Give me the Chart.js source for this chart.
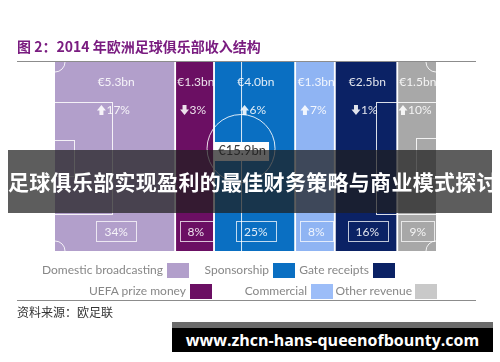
<!DOCTYPE html>
<html>
<head>
<meta charset="utf-8">
<script src="https://cdn.jsdelivr.net/npm/chart.js@4.4.0/dist/chart.umd.min.js"></script>
<style>
  body { margin: 0; background: #fff; }
  #wrap { position: relative; width: 500px; height: 362px; overflow: hidden; font-family: Lato, "Noto Sans", sans-serif; }
  #revenue_Chart { position: absolute; left: 0; top: 0; }
  .title { position: absolute; left: 17px; top: 36px; font: bold 14px "Noto Sans CJK SC", sans-serif; color: #7a1c80; line-height: 20px; white-space: nowrap; }
  .rule { position: absolute; left: 17px; width: 459px; height: 1px; background: #8c8c8c; }
  .lg-text { position: absolute; font-size: 12px; color: #878787; line-height: 16px; white-space: nowrap; text-align: right; }
  .lg-box { position: absolute; width: 22px; height: 15px; }
  .source { position: absolute; left: 17px; top: 304px; font: 12px "Noto Sans CJK SC", sans-serif; color: #333; line-height: 16px; }
  .banner { position: absolute; left: 8px; top: 150px; width: 484px; height: 63px; background: rgba(30,30,30,0.72);
            color: #fff; font: bold 21px "Noto Sans CJK SC", sans-serif; line-height: 63px; text-align: center; white-space: nowrap; letter-spacing: 0.3px; }
  .mark { position: absolute; left: 172px; top: 322px; width: 321px; height: 30px; background: #000; }
  .mark .strip { height: 6px; background: #6b6b6b; }
  .mark .txt { color: #fff; font: bold 16px "Open Sans", sans-serif; text-align: center; line-height: 24px; white-space: nowrap; }
</style>
</head>
<body>
<div id="wrap">
  <canvas id="revenue_Chart" width="500" height="362"></canvas>
  <div class="title">图 2：2014 年欧洲足球俱乐部收入结构</div>
  <div class="rule" style="top:61px"></div>
  <div id="legend"></div>
  <div class="rule" style="top:300px"></div>
  <div class="source">资料来源：欧足联</div>
  <div class="banner">足球俱乐部实现盈利的最佳财务策略与商业模式探讨</div>
  <div class="mark"><div class="strip"></div><div class="txt">www.zhcn-hans-queenofbounty.com</div></div>
</div>
<script>
const categories = ['Domestic broadcasting', 'UEFA prize money', 'Sponsorship', 'Commercial', 'Gate receipts', 'Other revenue'];
const revenue = [5.3, 1.3, 4.0, 1.3, 2.5, 1.5];      // € bn
const change = [17, -3, 6, 7, -1, 10];               // % change
const share = [34, 8, 25, 8, 16, 9];                 // % of total
const colSpan = [31.6, 10.2, 21.3, 10.4, 16.4, 10.1]; // column width as drawn
const colors = ['#b29fcb', '#6b0f63', '#0a6fc2', '#8fb4f3', '#0b2265', '#a8a8a8'];
const legendColors = ['#b29fcb', '#6b0f63', '#0a6fc2', '#9cbdf8', '#0b2265', '#c9c9c9'];

const ctx = document.getElementById('revenue_Chart');

// legend (text sits left of its swatch)
const legendPos = [
  [163, 167, 263], [269, 273, 263], [369, 373, 263],
  [186, 190, 284], [307, 311, 284], [412, 415, 284]
];
const legendOrder = [0, 2, 4, 1, 3, 5];
const lg = document.getElementById('legend');
legendOrder.forEach((ci, k) => {
  const p = legendPos[k];
  const t = document.createElement('div');
  t.className = 'lg-text';
  t.style.right = (500 - p[0]) + 'px';
  t.style.top = (p[2] - 1) + 'px';
  t.textContent = categories[ci];
  lg.appendChild(t);
  const b = document.createElement('div');
  b.className = 'lg-box';
  b.style.left = p[1] + 'px';
  b.style.top = p[2] + 'px';
  b.style.background = legendColors[ci];
  lg.appendChild(b);
});

let start = 0;
const datasets = categories.map((c, i) => {
  const ds = {
    label: c,
    data: [[start, start + colSpan[i]]],
    backgroundColor: colors[i],
    borderColor: '#ffffff',
    borderWidth: { left: i === 0 ? 0 : 1, right: i === 5 ? 0 : 1.5, top: 0, bottom: 0 },
    borderSkipped: false,
    grouped: false,
    barPercentage: 1,
    categoryPercentage: 1
  };
  start += colSpan[i];
  return ds;
});

function arrow(c, x, y, up) {
  // small block arrow, centred on x,y
  c.beginPath();
  const s = up ? -1 : 1;
  c.moveTo(x - 4.5, y - s * 0.5);
  c.lineTo(x, y + s * 5);
  c.lineTo(x + 4.5, y - s * 0.5);
  c.lineTo(x + 2, y - s * 0.5);
  c.lineTo(x + 2, y - s * 5);
  c.lineTo(x - 2, y - s * 5);
  c.lineTo(x - 2, y - s * 0.5);
  c.closePath();
  c.fill();
}

const pitch = {
  id: 'pitch',
  afterDatasetsDraw(chart) {
    const c = chart.ctx;
    const a = chart.chartArea;
    const xs = chart.scales.x;
    const midY = (a.top + a.bottom) / 2;
    c.save();
    c.strokeStyle = 'rgba(255,255,255,0.85)';
    c.lineWidth = 1;
    // half-way line and centre circle
    const cx = xs.getPixelForValue(colSpan[0] + colSpan[1] + colSpan[2] * 0.33);
    c.beginPath(); c.moveTo(cx + 0.5, a.top); c.lineTo(cx + 0.5, a.bottom); c.stroke();
    c.beginPath(); c.arc(cx, midY - 8, 34, 0, Math.PI * 2); c.stroke();
    // penalty and goal boxes
    c.strokeRect(a.left - 1, a.top + 40.5, 58.5, 112);
    c.strokeRect(a.left - 1, a.top + 78.5, 20.5, 36);
    c.strokeRect(a.right - 59.5, a.top + 40.5, 60, 112);
    c.strokeRect(a.right - 19.5, a.top + 76.5, 20, 40);
    // corner arcs
    [[a.left, a.top, 0, 0.5], [a.left, a.bottom, 1.5, 2], [a.right, a.top, 0.5, 1], [a.right, a.bottom, 1, 1.5]]
      .forEach(k => { c.beginPath(); c.arc(k[0], k[1], 10, k[2] * Math.PI, k[3] * Math.PI); c.stroke(); });

    // labels on each column
    c.textAlign = 'center';
    c.textBaseline = 'middle';
    c.font = '12px Lato, sans-serif';
    chart.data.datasets.forEach((ds, i) => {
      const bar = chart.getDatasetMeta(i).data[0];
      const mx = (bar.x + bar.base) / 2 + 1;
      c.fillStyle = 'rgba(255,255,255,0.88)';
      c.fillText('€' + revenue[i].toFixed(1) + 'bn', mx, a.top + 20);
      const ct = Math.abs(change[i]) + '%';
      const tw = c.measureText(ct).width;
      arrow(c, mx - tw / 2 - 3, a.top + 48, change[i] > 0);
      c.textAlign = 'left';
      c.fillText(ct, mx - tw / 2 + 2, a.top + 48);
      c.textAlign = 'center';
      const pt = share[i] + '%';
      const pw = c.measureText(pt).width + 16;
      c.strokeStyle = 'rgba(255,255,255,0.75)';
      c.strokeRect(Math.round(mx - pw / 2) + 0.5, a.bottom - 29.5, Math.round(pw), 20);
      c.fillText(pt, mx, a.bottom - 19);
    });

    // total in centre circle
    const total = revenue.reduce((s, v) => s + v, 0);
    c.fillStyle = '#ffffff';
    c.fillRect(cx - 27, a.top + 80, 55, 19);
    c.fillStyle = '#3a3a3a';
    c.font = '13px Lato, sans-serif';
    c.fillText('€' + total.toFixed(1) + 'bn', cx + 1, a.top + 89);
    c.restore();
  }
};

new Chart(ctx, {
  type: 'bar',
  data: { labels: ['Revenue'], datasets: datasets },
  options: {
    indexAxis: 'y',
    responsive: false,
    animation: false,
    layout: { padding: { left: 55, right: 64, top: 62, bottom: 111 } },
    scales: {
      x: { type: 'linear', min: 0, max: 100, display: false },
      y: { display: false }
    },
    plugins: { legend: { display: false }, tooltip: { enabled: false } }
  },
  plugins: [pitch]
});
</script>
</body>
</html>
